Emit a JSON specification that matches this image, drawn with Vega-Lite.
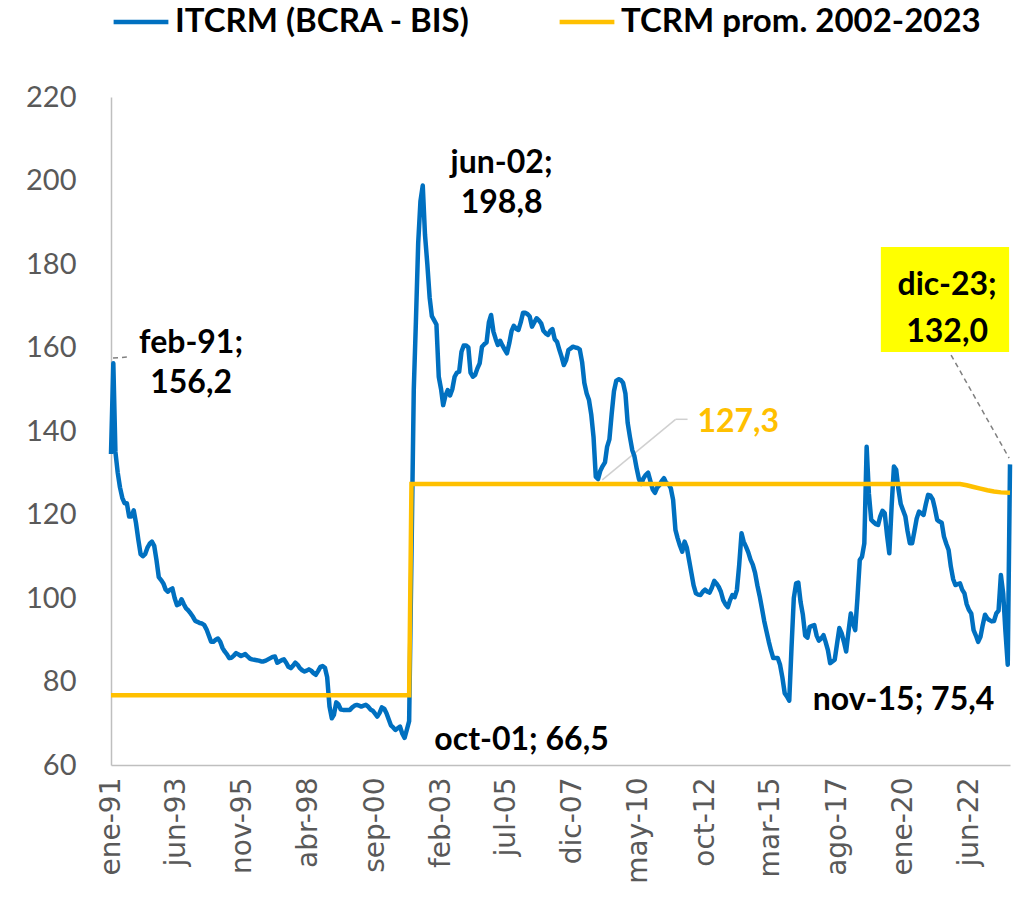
{
"$schema":"https://vega.github.io/schema/vega-lite/v6.json",
"width":899,"height":668,
"autosize":{"type":"none"},
"padding":{"left":111,"top":97,"right":6,"bottom":133},
"background":"white",
"config":{"view":{"stroke":null},"font":"Lato"},
"datasets":{
"itcrm":[
{"d":"1991-01","v":134.5},{"d":"1991-02","v":156.2},{"d":"1991-03","v":135},{"d":"1991-04","v":130},{"d":"1991-05","v":126.5},{"d":"1991-06","v":124},{"d":"1991-07","v":122.7},{"d":"1991-08","v":122.7},{"d":"1991-09","v":119.5},{"d":"1991-10","v":119.5},{"d":"1991-11","v":121},{"d":"1991-12","v":118},
{"d":"1992-01","v":114},{"d":"1992-02","v":110.5},{"d":"1992-03","v":110},{"d":"1992-04","v":110.5},{"d":"1992-05","v":112},{"d":"1992-06","v":113},{"d":"1992-07","v":113.5},{"d":"1992-08","v":112.5},{"d":"1992-09","v":109},{"d":"1992-10","v":105},{"d":"1992-11","v":104.3},{"d":"1992-12","v":103.5},
{"d":"1993-01","v":102},{"d":"1993-02","v":101.5},{"d":"1993-03","v":102},{"d":"1993-04","v":102.3},{"d":"1993-05","v":100},{"d":"1993-06","v":98.3},{"d":"1993-07","v":98.5},{"d":"1993-08","v":99.7},{"d":"1993-09","v":98.5},{"d":"1993-10","v":97.5},{"d":"1993-11","v":97},{"d":"1993-12","v":96.3},
{"d":"1994-01","v":95.5},{"d":"1994-02","v":94.5},{"d":"1994-03","v":94.3},{"d":"1994-04","v":94},{"d":"1994-05","v":93.9},{"d":"1994-06","v":93.5},{"d":"1994-07","v":92.5},{"d":"1994-08","v":91},{"d":"1994-09","v":89.5},{"d":"1994-10","v":89.5},{"d":"1994-11","v":90},{"d":"1994-12","v":90.3},
{"d":"1995-01","v":89.5},{"d":"1995-02","v":88},{"d":"1995-03","v":87.2},{"d":"1995-04","v":86.5},{"d":"1995-05","v":85.6},{"d":"1995-06","v":85.7},{"d":"1995-07","v":86.2},{"d":"1995-08","v":86.8},{"d":"1995-09","v":86.5},{"d":"1995-10","v":86.1},{"d":"1995-11","v":86.3},{"d":"1995-12","v":86.6},
{"d":"1996-01","v":86},{"d":"1996-02","v":85.5},{"d":"1996-03","v":85.3},{"d":"1996-04","v":85.2},{"d":"1996-05","v":85.1},{"d":"1996-06","v":85},{"d":"1996-07","v":84.8},{"d":"1996-08","v":84.8},{"d":"1996-09","v":85},{"d":"1996-10","v":85.3},{"d":"1996-11","v":85.6},{"d":"1996-12","v":85.9},
{"d":"1997-01","v":86},{"d":"1997-02","v":84.5},{"d":"1997-03","v":84.8},{"d":"1997-04","v":85.1},{"d":"1997-05","v":85.3},{"d":"1997-06","v":84.5},{"d":"1997-07","v":83.5},{"d":"1997-08","v":83.2},{"d":"1997-09","v":83.8},{"d":"1997-10","v":84.5},{"d":"1997-11","v":84},{"d":"1997-12","v":83.2},
{"d":"1998-01","v":82.7},{"d":"1998-02","v":82.4},{"d":"1998-03","v":82.6},{"d":"1998-04","v":82.9},{"d":"1998-05","v":82.6},{"d":"1998-06","v":82},{"d":"1998-07","v":81.6},{"d":"1998-08","v":82.5},{"d":"1998-09","v":83.5},{"d":"1998-10","v":83.7},{"d":"1998-11","v":83.3},{"d":"1998-12","v":81},
{"d":"1999-01","v":74},{"d":"1999-02","v":71.2},{"d":"1999-03","v":72},{"d":"1999-04","v":75},{"d":"1999-05","v":74.5},{"d":"1999-06","v":73.3},{"d":"1999-07","v":73.2},{"d":"1999-08","v":73.2},{"d":"1999-09","v":73.2},{"d":"1999-10","v":73.2},{"d":"1999-11","v":73.8},{"d":"1999-12","v":74.2},
{"d":"2000-01","v":74.4},{"d":"2000-02","v":74.2},{"d":"2000-03","v":74},{"d":"2000-04","v":74.2},{"d":"2000-05","v":74.4},{"d":"2000-06","v":74},{"d":"2000-07","v":73.3},{"d":"2000-08","v":73},{"d":"2000-09","v":72.3},{"d":"2000-10","v":71.6},{"d":"2000-11","v":72.5},{"d":"2000-12","v":73.8},
{"d":"2001-01","v":73.5},{"d":"2001-02","v":72.4},{"d":"2001-03","v":71},{"d":"2001-04","v":69.5},{"d":"2001-05","v":69},{"d":"2001-06","v":68.4},{"d":"2001-07","v":68.8},{"d":"2001-08","v":69.2},{"d":"2001-09","v":67.5},{"d":"2001-10","v":66.5},{"d":"2001-11","v":68.5},{"d":"2001-12","v":70.5},
{"d":"2002-01","v":110},{"d":"2002-02","v":150},{"d":"2002-03","v":166},{"d":"2002-04","v":185},{"d":"2002-05","v":195},{"d":"2002-06","v":198.8},{"d":"2002-07","v":187},{"d":"2002-08","v":180},{"d":"2002-09","v":172},{"d":"2002-10","v":167.5},{"d":"2002-11","v":166.5},{"d":"2002-12","v":165.5},
{"d":"2003-01","v":153},{"d":"2003-02","v":150},{"d":"2003-03","v":146.2},{"d":"2003-04","v":148.5},{"d":"2003-05","v":149.8},{"d":"2003-06","v":148.5},{"d":"2003-07","v":150},{"d":"2003-08","v":153},{"d":"2003-09","v":154},{"d":"2003-10","v":154.2},{"d":"2003-11","v":159},{"d":"2003-12","v":160.5},
{"d":"2004-01","v":160.5},{"d":"2004-02","v":160},{"d":"2004-03","v":154},{"d":"2004-04","v":153},{"d":"2004-05","v":153.4},{"d":"2004-06","v":155},{"d":"2004-07","v":156.2},{"d":"2004-08","v":160.2},{"d":"2004-09","v":160.8},{"d":"2004-10","v":161.2},{"d":"2004-11","v":166},{"d":"2004-12","v":167.8},
{"d":"2005-01","v":163.8},{"d":"2005-02","v":162},{"d":"2005-03","v":160.6},{"d":"2005-04","v":161.6},{"d":"2005-05","v":160.5},{"d":"2005-06","v":159.5},{"d":"2005-07","v":158.6},{"d":"2005-08","v":161},{"d":"2005-09","v":164},{"d":"2005-10","v":165.2},{"d":"2005-11","v":164.5},{"d":"2005-12","v":164.2},
{"d":"2006-01","v":166},{"d":"2006-02","v":168.3},{"d":"2006-03","v":168.3},{"d":"2006-04","v":168},{"d":"2006-05","v":167.4},{"d":"2006-06","v":165},{"d":"2006-07","v":166},{"d":"2006-08","v":167},{"d":"2006-09","v":166.5},{"d":"2006-10","v":165.8},{"d":"2006-11","v":164},{"d":"2006-12","v":163.4},
{"d":"2007-01","v":163},{"d":"2007-02","v":164},{"d":"2007-03","v":164.4},{"d":"2007-04","v":162},{"d":"2007-05","v":161.4},{"d":"2007-06","v":159.5},{"d":"2007-07","v":157.8},{"d":"2007-08","v":155.8},{"d":"2007-09","v":157},{"d":"2007-10","v":159.4},{"d":"2007-11","v":159.8},{"d":"2007-12","v":160.2},
{"d":"2008-01","v":160},{"d":"2008-02","v":159.9},{"d":"2008-03","v":159.5},{"d":"2008-04","v":156.5},{"d":"2008-05","v":151.5},{"d":"2008-06","v":149},{"d":"2008-07","v":147.5},{"d":"2008-08","v":144},{"d":"2008-09","v":138.5},{"d":"2008-10","v":129},{"d":"2008-11","v":128.5},{"d":"2008-12","v":130.5},
{"d":"2009-01","v":131.6},{"d":"2009-02","v":132.5},{"d":"2009-03","v":136.2},{"d":"2009-04","v":138},{"d":"2009-05","v":144},{"d":"2009-06","v":149.5},{"d":"2009-07","v":152},{"d":"2009-08","v":152.4},{"d":"2009-09","v":152.2},{"d":"2009-10","v":151.5},{"d":"2009-11","v":149},{"d":"2009-12","v":142},
{"d":"2010-01","v":138.5},{"d":"2010-02","v":135.4},{"d":"2010-03","v":134},{"d":"2010-04","v":131},{"d":"2010-05","v":128.5},{"d":"2010-06","v":127.3},{"d":"2010-07","v":128.7},{"d":"2010-08","v":129.5},{"d":"2010-09","v":130},{"d":"2010-10","v":128},{"d":"2010-11","v":126},{"d":"2010-12","v":125.2},
{"d":"2011-01","v":126.5},{"d":"2011-02","v":127.1},{"d":"2011-03","v":128},{"d":"2011-04","v":128.7},{"d":"2011-05","v":127.5},{"d":"2011-06","v":127.3},{"d":"2011-07","v":126.3},{"d":"2011-08","v":123.5},{"d":"2011-09","v":116.3},{"d":"2011-10","v":114.3},{"d":"2011-11","v":112.5},{"d":"2011-12","v":111.1},
{"d":"2012-01","v":113.5},{"d":"2012-02","v":112},{"d":"2012-03","v":109.1},{"d":"2012-04","v":106},{"d":"2012-05","v":103},{"d":"2012-06","v":101.1},{"d":"2012-07","v":100.8},{"d":"2012-08","v":100.7},{"d":"2012-09","v":101.5},{"d":"2012-10","v":102},{"d":"2012-11","v":101.5},{"d":"2012-12","v":101.3},
{"d":"2013-01","v":102.5},{"d":"2013-02","v":104.1},{"d":"2013-03","v":103.5},{"d":"2013-04","v":102.7},{"d":"2013-05","v":101.5},{"d":"2013-06","v":99.5},{"d":"2013-07","v":98.5},{"d":"2013-08","v":97.8},{"d":"2013-09","v":99.5},{"d":"2013-10","v":100.7},{"d":"2013-11","v":100.2},{"d":"2013-12","v":101.9},
{"d":"2014-01","v":108},{"d":"2014-02","v":115.5},{"d":"2014-03","v":113.5},{"d":"2014-04","v":112.3},{"d":"2014-05","v":111},{"d":"2014-06","v":109.2},{"d":"2014-07","v":108},{"d":"2014-08","v":106},{"d":"2014-09","v":103},{"d":"2014-10","v":100.5},{"d":"2014-11","v":97.5},{"d":"2014-12","v":94.5},
{"d":"2015-01","v":92},{"d":"2015-02","v":89.5},{"d":"2015-03","v":87.5},{"d":"2015-04","v":85.6},{"d":"2015-05","v":85.6},{"d":"2015-06","v":85.6},{"d":"2015-07","v":84},{"d":"2015-08","v":81},{"d":"2015-09","v":77.2},{"d":"2015-10","v":76.4},{"d":"2015-11","v":75.4},{"d":"2015-12","v":88},
{"d":"2016-01","v":100},{"d":"2016-02","v":103.5},{"d":"2016-03","v":103.7},{"d":"2016-04","v":99},{"d":"2016-05","v":96},{"d":"2016-06","v":91},{"d":"2016-07","v":90.5},{"d":"2016-08","v":93.1},{"d":"2016-09","v":93.3},{"d":"2016-10","v":93.5},{"d":"2016-11","v":91},{"d":"2016-12","v":89.8},
{"d":"2017-01","v":90.3},{"d":"2017-02","v":91.1},{"d":"2017-03","v":89.5},{"d":"2017-04","v":87.5},{"d":"2017-05","v":84.4},{"d":"2017-06","v":84.8},{"d":"2017-07","v":85.2},{"d":"2017-08","v":89},{"d":"2017-09","v":92.8},{"d":"2017-10","v":91.6},{"d":"2017-11","v":89.5},{"d":"2017-12","v":87.2},
{"d":"2018-01","v":92},{"d":"2018-02","v":96.3},{"d":"2018-03","v":94},{"d":"2018-04","v":92.3},{"d":"2018-05","v":100},{"d":"2018-06","v":109.1},{"d":"2018-07","v":109.9},{"d":"2018-08","v":113.1},{"d":"2018-09","v":136.2},{"d":"2018-10","v":125},{"d":"2018-11","v":118.7},{"d":"2018-12","v":118.2},
{"d":"2019-01","v":117.7},{"d":"2019-02","v":117.5},{"d":"2019-03","v":119.5},{"d":"2019-04","v":120.9},{"d":"2019-05","v":120.3},{"d":"2019-06","v":115},{"d":"2019-07","v":110.7},{"d":"2019-08","v":122},{"d":"2019-09","v":131.5},{"d":"2019-10","v":130.7},{"d":"2019-11","v":126},{"d":"2019-12","v":122.5},
{"d":"2020-01","v":121},{"d":"2020-02","v":119.5},{"d":"2020-03","v":116},{"d":"2020-04","v":113.1},{"d":"2020-05","v":113.1},{"d":"2020-06","v":116},{"d":"2020-07","v":119},{"d":"2020-08","v":120.7},{"d":"2020-09","v":120.3},{"d":"2020-10","v":119.9},{"d":"2020-11","v":122.5},{"d":"2020-12","v":124.7},
{"d":"2021-01","v":124.5},{"d":"2021-02","v":123.6},{"d":"2021-03","v":121.5},{"d":"2021-04","v":118.7},{"d":"2021-05","v":118.3},{"d":"2021-06","v":118},{"d":"2021-07","v":114.7},{"d":"2021-08","v":113},{"d":"2021-09","v":111.5},{"d":"2021-10","v":107.5},{"d":"2021-11","v":104.5},{"d":"2021-12","v":103.1},
{"d":"2022-01","v":103.3},{"d":"2022-02","v":103.5},{"d":"2022-03","v":102},{"d":"2022-04","v":101.1},{"d":"2022-05","v":98.5},{"d":"2022-06","v":97.1},{"d":"2022-07","v":96.3},{"d":"2022-08","v":92.3},{"d":"2022-09","v":91},{"d":"2022-10","v":89.5},{"d":"2022-11","v":90.7},{"d":"2022-12","v":93.5},
{"d":"2023-01","v":96},{"d":"2023-02","v":95.1},{"d":"2023-03","v":94.7},{"d":"2023-04","v":94.4},{"d":"2023-05","v":94.5},{"d":"2023-06","v":96.3},{"d":"2023-07","v":97},{"d":"2023-08","v":105.5},{"d":"2023-09","v":101.1},{"d":"2023-10","v":92},{"d":"2023-11","v":84},{"d":"2023-12","v":132.0}
],
"prom":[
{"d":"1991-01","v":76.7},{"d":"2001-12","v":76.7},{"d":"2002-01","v":127.3},{"d":"2022-02","v":127.3},{"d":"2022-05","v":127.0},{"d":"2022-08","v":126.6},{"d":"2022-11","v":126.2},{"d":"2023-02","v":125.8},{"d":"2023-05","v":125.5},{"d":"2023-08","v":125.3},{"d":"2023-12","v":125.2}
],
"box":[{"d":"2019-03-10","d2":"2023-11-19","v":158.9,"v2":184.1}],
"leadSolid":[
{"d":"2008-12-27","v":128.3,"d2":"2011-09-03","v2":142.8},
{"d":"2011-09-03","v":142.8,"d2":"2012-02-10","v2":142.8}
],
"leadDash":[
{"d":"2021-10-04","v":158.2,"d2":"2023-11-19","v2":133.5},
{"d":"1991-01-28","v":157.5,"d2":"1991-08-01","v2":157.7}
],
"txtBlack":[
{"d":"1993-12-07","v":161.1,"t":"feb-91;"},
{"d":"1993-12-07","v":151.5,"t":"156,2"},
{"d":"2005-04-20","v":204.2,"t":"jun-02;"},
{"d":"2005-04-20","v":194.6,"t":"198,8"},
{"d":"2021-08-12","v":175,"t":"dic-23;"},
{"d":"2021-08-12","v":163.7,"t":"132,0"},
{"d":"2006-01-12","v":66,"t":"oct-01; 66,5"},
{"d":"2020-01-07","v":75.6,"t":"nov-15; 75,4"}
],
"txtYellow":[{"d":"2013-12-19","v":142.2,"t":"127,3"}]
},
"encoding":{
"x":{"field":"d","type":"temporal",
 "scale":{"type":"utc","domain":[{"year":1991,"month":1,"date":1,"utc":true},{"year":2023,"month":12,"date":1,"utc":true}]},
 "axis":{"title":null,"grid":false,"ticks":false,"domainColor":"#BFBFBF","domainWidth":1.5,
  "values":[{"year":1991,"month":1,"date":1,"utc":true},{"year":1993,"month":6,"date":1,"utc":true},{"year":1995,"month":11,"date":1,"utc":true},{"year":1998,"month":4,"date":1,"utc":true},{"year":2000,"month":9,"date":1,"utc":true},{"year":2003,"month":2,"date":1,"utc":true},{"year":2005,"month":7,"date":1,"utc":true},{"year":2007,"month":12,"date":1,"utc":true},{"year":2010,"month":5,"date":1,"utc":true},{"year":2012,"month":10,"date":1,"utc":true},{"year":2015,"month":3,"date":1,"utc":true},{"year":2017,"month":8,"date":1,"utc":true},{"year":2020,"month":1,"date":1,"utc":true},{"year":2022,"month":6,"date":1,"utc":true}],
  "labelExpr":"['ene','feb','mar','abr','may','jun','jul','ago','sep','oct','nov','dic'][utcmonth(datum.value)] + '-' + utcFormat(datum.value, '%y')",
  "labelAngle":-90,"labelFont":"DejaVu Sans","labelFontSize":28,"labelColor":"#595959","labelPadding":12,
  "labelFlush":false,"labelOverlap":false,"labelBound":false}},
"y":{"field":"v","type":"quantitative",
 "scale":{"domain":[60,220],"nice":false,"zero":false},
 "axis":{"title":null,"grid":false,"ticks":false,"domainColor":"#BFBFBF","domainWidth":1.5,
  "values":[60,80,100,120,140,160,180,200,220],
  "labelFont":"Lato","labelFontSize":29,"labelColor":"#595959","labelPadding":35}}
},
"layer":[
{"data":{"name":"box"},"mark":{"type":"rect","fill":"#FFFF00"},"encoding":{"x2":{"field":"d2"},"y2":{"field":"v2"}}},
{"data":{"name":"leadSolid"},"mark":{"type":"rule","stroke":"#D0D0D0","strokeWidth":1.5},"encoding":{"x2":{"field":"d2"},"y2":{"field":"v2"}}},
{"data":{"name":"leadDash"},"mark":{"type":"rule","stroke":"#808080","strokeWidth":1.5,"strokeDash":[5,4]},"encoding":{"x2":{"field":"d2"},"y2":{"field":"v2"}}},
{"data":{"name":"itcrm"},"mark":{"type":"line","strokeWidth":4.5,"strokeJoin":"round"},
 "encoding":{"color":{"datum":"ITCRM (BCRA - BIS)","type":"nominal",
  "scale":{"domain":["ITCRM (BCRA - BIS)","TCRM prom. 2002-2023"],"range":["#0070C0","#FFC000"]},
  "legend":{"title":null,"orient":"top","direction":"horizontal","symbolType":"stroke","symbolSize":3000,"symbolStrokeWidth":4.5,
   "labelFont":"Lato","labelFontWeight":"bold","labelFontSize":33,"labelColor":"black","labelLimit":600,"labelOffset":4,
   "columnPadding":80,"offset":58,"padding":0}}}},
{"data":{"name":"prom"},"mark":{"type":"line","strokeWidth":4.5},
 "encoding":{"color":{"datum":"TCRM prom. 2002-2023","type":"nominal"}}},
{"data":{"name":"txtBlack"},"mark":{"type":"text","font":"Lato","fontWeight":"bold","fontSize":32,"color":"black","align":"center","baseline":"middle"},"encoding":{"text":{"field":"t"}}},
{"data":{"name":"txtYellow"},"mark":{"type":"text","font":"Lato","fontWeight":"bold","fontSize":32,"color":"#FFC000","align":"center","baseline":"middle"},"encoding":{"text":{"field":"t"}}}
]
}
